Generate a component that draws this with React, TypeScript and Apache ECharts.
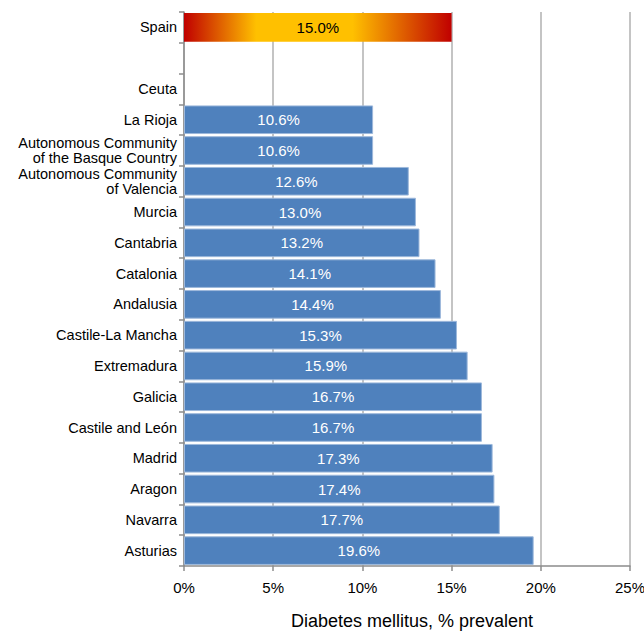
import React, { useEffect, useRef } from "react";
import * as echarts from "echarts";

const categories = [
  "Spain",
  "",
  "Ceuta",
  "La Rioja",
  "Autonomous Community\nof the Basque Country",
  "Autonomous Community\nof Valencia",
  "Murcia",
  "Cantabria",
  "Catalonia",
  "Andalusia",
  "Castile-La Mancha",
  "Extremadura",
  "Galicia",
  "Castile and León",
  "Madrid",
  "Aragon",
  "Navarra",
  "Asturias",
];
const values: (number | null)[] = [
  15.0, null, null, 10.6, 10.6, 12.6, 13.0, 13.2, 14.1, 14.4, 15.3, 15.9, 16.7, 16.7, 17.3, 17.4, 17.7, 19.6,
];
const xTicks = { min: 0, max: 25, interval: 5 };
const axisTitle = "Diabetes mellitus, % prevalent";

export default function App() {
  const ref = useRef<HTMLDivElement>(null);
  useEffect(() => {
    document.body.style.margin = "0";
    const chart = echarts.init(ref.current!, null, { renderer: "svg" });
    const font = "'Liberation Sans', Arial, Helvetica, sans-serif";
    const spainGradient = new echarts.graphic.LinearGradient(0, 0, 1, 0, [
      { offset: 0, color: "#C00000" },
      { offset: 0.27, color: "#FFC000" },
      { offset: 0.63, color: "#FFC000" },
      { offset: 1, color: "#C00000" },
    ]);
    const data = values.map((v, i) => {
      if (i === 0) {
        return {
          value: v,
          itemStyle: { color: spainGradient, borderWidth: 0 },
          label: { color: "#000" },
        };
      }
      return { value: v };
    });
    chart.setOption({
      animation: false,
      textStyle: { fontFamily: font },
      grid: {
        left: 184,
        right: 14,
        top: 12,
        bottom: 65,
        containLabel: false,
        outerBoundsMode: "none",
      },
      xAxis: {
        type: "value",
        min: xTicks.min,
        max: xTicks.max,
        interval: xTicks.interval,
        name: axisTitle,
        nameLocation: "middle",
        nameGap: 46,
        nameTextStyle: { fontSize: 18, color: "#000", fontFamily: font, padding: [0, 0, 0, 10] },
        axisLine: { show: true, lineStyle: { color: "#8C8C8C", width: 1.5 } },
        axisTick: { show: true, length: 5, lineStyle: { color: "#8C8C8C", width: 1.5 } },
        axisLabel: {
          formatter: (v: number) => `${v}%`,
          fontSize: 15,
          color: "#000",
          margin: 14,
          fontFamily: font,
        },
        splitLine: { show: true, lineStyle: { color: "#B0B0B0", width: 1.5 } },
      },
      yAxis: {
        type: "category",
        inverse: true,
        data: categories,
        axisLine: { show: true, lineStyle: { color: "#8C8C8C", width: 1.5 } },
        axisTick: { show: true, length: 5, lineStyle: { color: "#8C8C8C", width: 1.5 } },
        axisLabel: {
          fontSize: 14.5,
          color: "#000",
          margin: 7,
          lineHeight: 15,
          align: "right",
          fontFamily: font,
        },
      },
      series: [
        {
          type: "bar",
          data,
          barCategoryGap: "7%",
          itemStyle: { color: "#4F81BD", borderColor: "#9DB8DB", borderWidth: 1 },
          label: {
            show: true,
            position: "inside",
            color: "#fff",
            fontSize: 15,
            fontFamily: font,
            formatter: (p: any) => (p.value == null ? "" : `${Number(p.value).toFixed(1)}%`),
          },
        },
      ],
    });
    return () => chart.dispose();
  }, []);
  return <div ref={ref} style={{ width: 644, height: 631 }} />;
}
